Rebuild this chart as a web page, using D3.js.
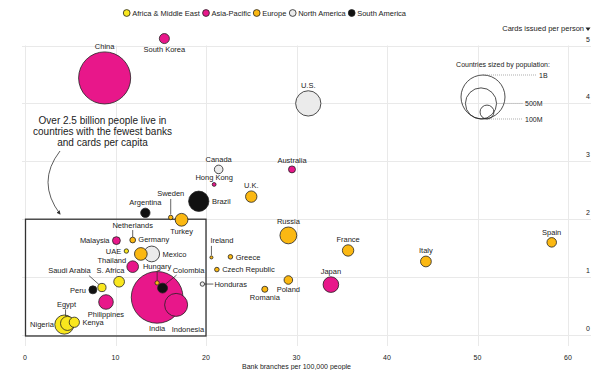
<!DOCTYPE html>
<html>
<head>
<meta charset="utf-8">
<script src="https://cdn.jsdelivr.net/npm/d3@7"></script>
<style>
  body { margin: 0; background: #fff; }
  svg { display: block; font-family: "Liberation Sans", Arial, sans-serif; }
</style>
</head>
<body>
<svg></svg>
<script>
const svg = d3.select("svg").attr("width", 600).attr("height", 370);

// ---- DATA ----
const regionNames = ["Africa & Middle East", "Asia-Pacific", "Europe", "North America", "South America"];
const regionColors = ["#f9e71e", "#e8178a", "#fbb812", "#ebebeb", "#111111"];

const countries = ["China", "South Korea", "U.S.", "Canada", "Hong Kong", "Australia", "U.K.", "Brazil",
  "Sweden", "Argentina", "Turkey", "Russia", "France", "Italy", "Spain", "Japan", "Poland", "Romania",
  "Ireland", "Greece", "Czech Republic", "Honduras", "Netherlands", "Germany", "Mexico", "Malaysia",
  "UAE", "Thailand", "Hungary", "Colombia", "India", "Indonesia", "S. Africa", "Saudi Arabia", "Peru",
  "Philippines", "Egypt", "Nigeria", "Kenya"];
const regions = [1, 1, 3, 3, 1, 1, 2, 4,
  2, 4, 2, 2, 2, 2, 2, 1, 2, 2,
  2, 2, 2, 3, 2, 2, 3, 1,
  0, 1, 2, 4, 1, 1, 0, 0, 4,
  1, 0, 0, 0];
// bank branches per 100,000 people
const branches = [8.8, 15.4, 31.3, 21.4, 20.9, 29.5, 25.0, 19.2,
  16.1, 13.3, 17.3, 29.1, 35.7, 44.3, 58.2, 33.8, 29.1, 26.5,
  20.6, 22.7, 21.2, 19.6, 11.9, 12.8, 14.0, 10.1,
  11.2, 11.9, 14.6, 15.2, 14.6, 16.7, 10.4, 8.5, 7.5,
  8.95, 4.7, 4.35, 5.45];
// cards issued per person
const cards = [4.44, 5.12, 4.0, 2.86, 2.6, 2.86, 2.39, 2.31,
  2.03, 2.11, 1.99, 1.72, 1.46, 1.27, 1.6, 0.87, 0.95, 0.79,
  1.34, 1.35, 1.13, 0.88, 1.64, 1.4, 1.4, 1.63,
  1.45, 1.18, 0.9, 0.81, 0.65, 0.52, 0.92, 0.82, 0.78,
  0.57, 0.2, 0.18, 0.22];
// population, millions
const population = [1400, 52, 330, 38, 7.5, 25, 67, 212,
  10.3, 45, 84, 146, 67, 60, 47, 126, 38, 19,
  4.9, 10.7, 10.7, 9.9, 17, 83, 128, 32,
  9.9, 70, 9.7, 50, 1380, 273, 59, 35, 33,
  110, 102, 190, 54];

const xTicks = [0, 10, 20, 30, 40, 50, 60];
const yTicks = [0, 1, 2, 3, 4, 5];
const sizeLegend = [1000, 500, 100];
const sizeLegendLabels = ["1B", "500M", "100M"];

// ---- LABEL PLACEMENT (pixel offsets from circle centre) ----
const place = {
  "Brazil": "right", "Mexico": "right", "Greece": "right", "Czech Republic": "right", "Kenya": "right",
  "Malaysia": "left", "UAE": "left", "Peru": "left",
  "South Korea": "below", "Turkey": "below", "Poland": "below", "Romania": "below",
  "Philippines": "below", "India": "below",
  "Sweden": { dx: 0, dy: -21.5, a: "middle", line: [0, -18.5, 0, -3] },
  "Netherlands": { dx: 0, dy: -12.5, a: "middle", line: [0, -10, 0, -3] },
  "Germany": { dx: -2.5, dy: -12, a: "start" },
  "Thailand": { dx: -6.5, dy: -4, a: "end" },
  "Hungary": { dx: 0, dy: -14, a: "middle", line: [0, -11.5, 0, -2.7] },
  "Colombia": { dx: 26, dy: -15.6, a: "middle", line: [14, -13, 3, -4] },
  "S. Africa": { dx: -8.7, dy: -9, a: "middle" },
  "Saudi Arabia": { dx: -32.5, dy: -14.3, a: "middle", line: [-13, -12, -3, -3] },
  "Egypt": { dx: -1, dy: -16.8, a: "middle", line: [-2, -14, -2, -7.5] },
  "Nigeria": { dx: -10.5, dy: 2.7, a: "end" },
  "Ireland": { dx: -1, dy: -14.3, a: "start", line: [0, -11.5, 0, -2.3] },
  "Honduras": { dx: 12, dy: 2.7, a: "start", line: [2.3, 0, 11, 0] },
  "Indonesia": { dx: 11.8, dy: 27.2, a: "middle" }
};

// ---- SCALES ----
const x = d3.scaleLinear().domain([0, 60]).range([25, 568]);
const y = d3.scaleLinear().domain([0, 5]).range([335, 45.5]);
const r = d3.scaleSqrt().domain([0, 1000]).range([0, 22]);
const color = d3.scaleOrdinal().domain(d3.range(regionNames.length)).range(regionColors);

const grid = svg.append("g").attr("stroke", "#e9e9e9").attr("stroke-width", 1);
grid.selectAll(".h").data(yTicks).join("line")
  .attr("x1", 22).attr("x2", 591)
  .attr("y1", d => Math.round(y(d)) + 0.5).attr("y2", d => Math.round(y(d)) + 0.5);
grid.selectAll(".v").data(xTicks).join("line")
  .attr("y1", y(5)).attr("y2", 346)
  .attr("x1", d => Math.round(x(d)) + 0.5).attr("x2", d => Math.round(x(d)) + 0.5);

// ---- AXES ----
const axisText = svg.append("g").attr("font-size", 7).attr("fill", "#222");
axisText.selectAll(".yt").data(yTicks).join("text")
  .attr("x", 590).attr("y", d => y(d) - 4).attr("text-anchor", "end").text(d => d);
axisText.selectAll(".xt").data(xTicks).join("text")
  .attr("x", d => x(d)).attr("y", 359.5).attr("text-anchor", "middle").text(d => d);
axisText.append("text").attr("x", x(30)).attr("y", 368.5).attr("text-anchor", "middle")
  .text("Bank branches per 100,000 people");
axisText.append("text").attr("x", 584).attr("y", 31).attr("text-anchor", "end")
  .attr("font-size", 7.5).text("Cards issued per person");
axisText.append("path").attr("d", "M585.5,27.5 L590.5,27.5 L588,31 Z").attr("fill", "#222");

// ---- LEGEND ----
const legX = [126.7, 206, 256.7, 292.7, 351.7];
const leg = svg.append("g").selectAll("g").data(regionNames).join("g")
  .attr("transform", (d, i) => `translate(${legX[i]},13)`);
leg.append("circle").attr("r", 3.4).attr("fill", (d, i) => color(i))
  .attr("stroke", "#222").attr("stroke-width", 0.8);
leg.append("text").attr("x", 5.5).attr("y", 2.6).attr("font-size", 7.5).attr("fill", "#222").text(d => d);

// ---- SIZE LEGEND ----
const sl = svg.append("g");
sl.append("text").attr("x", 503).attr("y", 67).attr("text-anchor", "middle")
  .attr("font-size", 7).attr("fill", "#222").text("Countries sized by population:");
const slX = [483, 481, 487];
const slLine = [d => 119 - 2 * r(d), d => 119 - r(d), d => 119];
const slLineX = [d => 483, d => 481 + r(d), d => 487];
const slEnd = [537, 523, 523];
sizeLegend.forEach((p, i) => {
  sl.append("circle").attr("cx", slX[i]).attr("cy", 119 - r(p)).attr("r", r(p))
    .attr("fill", "none").attr("stroke", "#222").attr("stroke-width", 0.8);
  sl.append("line").attr("x1", slLineX[i](p)).attr("x2", slEnd[i])
    .attr("y1", slLine[i](p)).attr("y2", slLine[i](p))
    .attr("stroke", "#777").attr("stroke-width", 0.6).attr("stroke-dasharray", "1,1");
  sl.append("text").attr("x", slEnd[i] + 2).attr("y", slLine[i](p) + 2.5)
    .attr("font-size", 7).attr("fill", "#222").text(sizeLegendLabels[i]);
});

// ---- HIGHLIGHT BOX + NOTE ----
svg.append("rect").attr("x", x(0) + 0.5).attr("y", y(2)).attr("width", x(20) - x(0) - 0.5)
  .attr("height", y(0) - y(2) + 1).attr("fill", "none").attr("stroke", "#333").attr("stroke-width", 1.3);

const note = ["Over 2.5 billion people live in", "countries with the fewest banks", "and cards per capita"];
svg.append("g").selectAll("text").data(note).join("text")
  .attr("x", 102.5).attr("y", (d, i) => 123.5 + i * 11.3)
  .attr("text-anchor", "middle").attr("font-size", 10).attr("fill", "#222").text(d => d);

svg.append("defs").append("marker").attr("id", "ah").attr("viewBox", "0 0 10 10")
  .attr("refX", 8).attr("refY", 5).attr("markerWidth", 5).attr("markerHeight", 5).attr("orient", "auto")
  .append("path").attr("d", "M0,0 L10,5 L0,10 Z").attr("fill", "#333");
svg.append("path").attr("d", "M60,151 Q36,182 60,214").attr("fill", "none")
  .attr("stroke", "#333").attr("stroke-width", 0.8).attr("marker-end", "url(#ah)");

// ---- BUBBLES ----
const data = countries.map((c, i) => ({
  name: c, region: regions[i], bx: branches[i], cy: cards[i], pop: population[i]
}));
const order = data.slice().sort((a, b) => b.pop - a.pop);

svg.append("g").selectAll("circle").data(order).join("circle")
  .attr("cx", d => x(d.bx)).attr("cy", d => y(d.cy)).attr("r", d => r(d.pop))
  .attr("fill", d => color(d.region)).attr("stroke", "#222").attr("stroke-width", 0.8);

// ---- LABELS ----
const lab = svg.append("g").attr("font-size", 7.5).attr("fill", "#222");
data.forEach(d => {
  const cx = x(d.bx), cy = y(d.cy), rr = r(d.pop);
  let p = place[d.name] || "above";
  let tx, ty, a = "middle";
  if (p === "above") { tx = cx; ty = cy - rr - 3; }
  else if (p === "below") { tx = cx; ty = cy + rr + 8; }
  else if (p === "left") { tx = cx - rr - 3; ty = cy + 2.7; a = "end"; }
  else if (p === "right") { tx = cx + rr + 3; ty = cy + 2.7; a = "start"; }
  else {
    tx = cx + p.dx; ty = cy + p.dy; a = p.a;
    if (p.line) {
      lab.append("line").attr("x1", cx + p.line[0]).attr("y1", cy + p.line[1])
        .attr("x2", cx + p.line[2]).attr("y2", cy + p.line[3])
        .attr("stroke", "#222").attr("stroke-width", 0.7);
    }
  }
  lab.append("text").attr("x", tx).attr("y", ty).attr("text-anchor", a).text(d.name);
});
</script>
</body>
</html>
